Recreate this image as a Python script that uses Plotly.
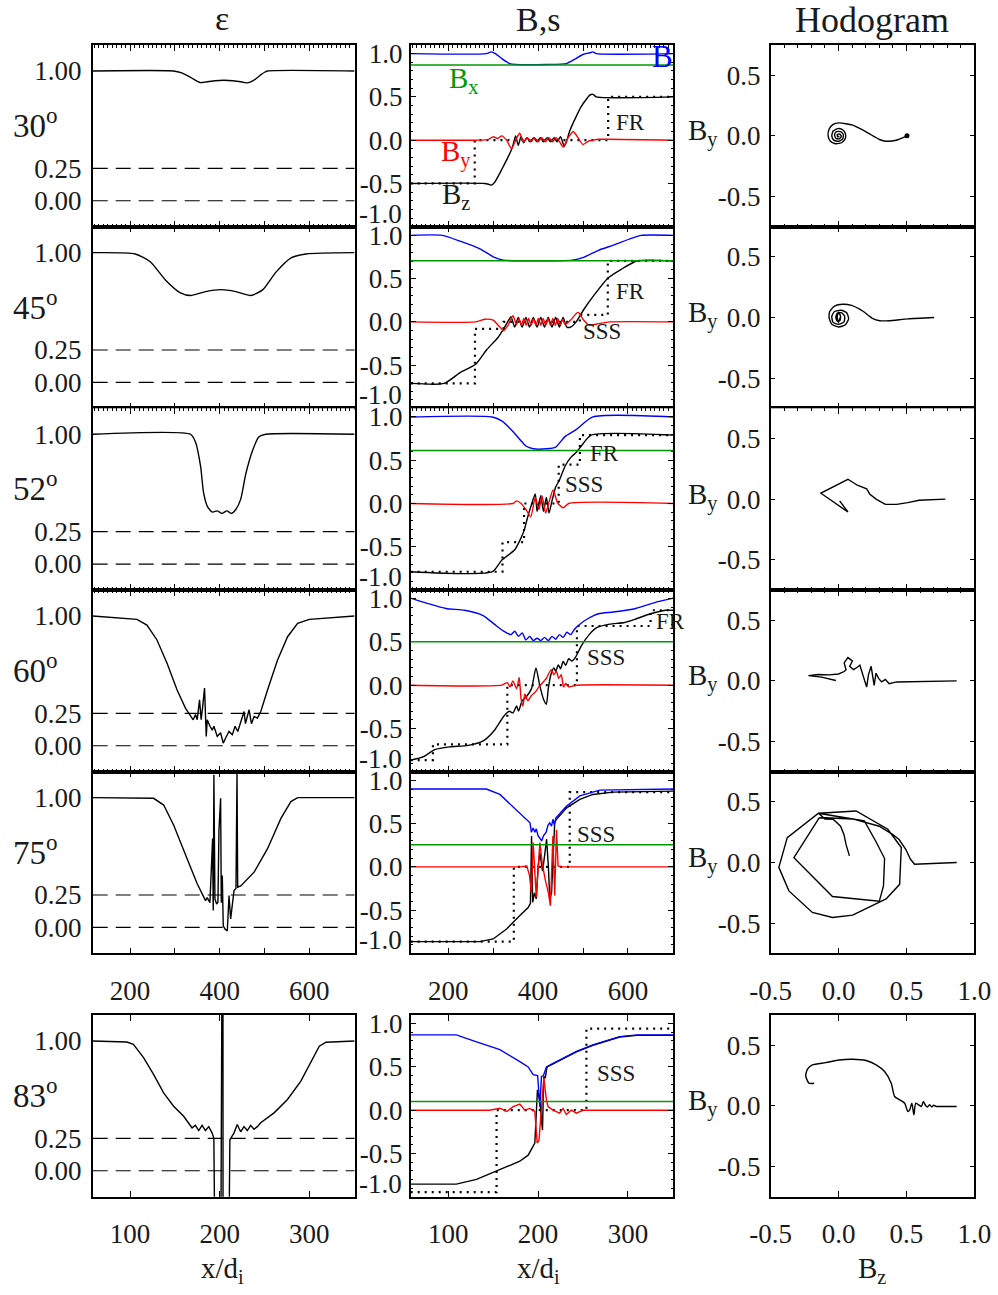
import plotly.graph_objects as go

W, H = 998, 1295
FONT = "Liberation Serif, Times New Roman, serif"

# ---------------- data ----------------
angles = ["30", "45", "52", "60", "75", "83"]
bx_values = [0.87, 0.706, 0.612, 0.503, 0.257, 0.10]
eps_ref_levels = [0.25, 0.0]

# epsilon profiles
eps_x = [
    [116.5, 297, 315, 335, 350, 357, 370, 390, 409, 430, 450, 462, 475, 490, 500, 507, 701],
    [116.5, 211.6, 245, 278.8, 312.4, 335, 368.6, 402.3, 436, 469.6, 496.5, 525.7, 559.4, 593, 701],
    [116.5, 335, 346, 357.5, 364, 373, 384, 395, 405, 416, 426, 436, 447, 458, 474, 487.7, 503, 701],
    [116.5, 215.2, 237.6, 260, 282.5, 304.9, 323.6, 334.8, 340.8, 346, 349.8, 355, 358.6, 362, 366.2, 370, 372.3, 378.3, 383.5, 387.1, 394.6, 402, 408, 413.3, 420.8, 428.2, 434.4, 440.4, 446.4, 454.4, 457.5, 465.7, 470.9, 476.9, 484.3, 491.8, 506.8, 529.2, 551.6, 574, 600.2, 701],
    [116.5, 252.5, 275, 297.4, 327.3, 349.8, 368.4, 372.2, 378.2, 384.2, 385.6, 387.1, 389.4, 393.1, 396.1, 398.4, 402.1, 403.6, 405.8, 408, 411.8, 417, 420.8, 424.5, 432, 436.4, 438.7, 440.2, 447, 461.9, 476.9, 506.8, 536.7, 559, 574, 701],
    [58.25, 96.3, 103.7, 115, 126.2, 137.4, 148.6, 159.8, 169.2, 172.9, 176.6, 180.4, 184.1, 187.8, 191.6, 193.5, 196.5, 200.5, 203.4, 203.6, 203.8, 206, 208.4, 211.4, 215.9, 219.6, 223.4, 227.1, 230.8, 234.6, 238.3, 242.1, 245.8, 260.7, 275.7, 290.6, 301.9, 311.2, 318.7, 350.5],
]
eps_y = [
    [1.0, 1.0, 0.985, 0.95, 0.92, 0.91, 0.915, 0.925, 0.928, 0.925, 0.915, 0.908, 0.925, 0.965, 0.99, 1.0, 1.0],
    [1.0, 0.99, 0.93, 0.79, 0.69, 0.67, 0.70, 0.715, 0.70, 0.67, 0.715, 0.85, 0.96, 0.99, 1.0],
    [1.0, 1.0, 0.94, 0.75, 0.55, 0.44, 0.40, 0.41, 0.39, 0.41, 0.39, 0.42, 0.50, 0.69, 0.88, 0.98, 1.0, 1.0],
    [1.0, 0.974, 0.93, 0.815, 0.636, 0.43, 0.29, 0.226, 0.20, 0.24, 0.20, 0.354, 0.20, 0.30, 0.444, 0.072, 0.20, 0.15, 0.12, 0.15, 0.072, 0.10, 0.02, 0.06, 0.11, 0.085, 0.15, 0.11, 0.17, 0.264, 0.17, 0.277, 0.17, 0.225, 0.213, 0.264, 0.43, 0.66, 0.84, 0.944, 0.974, 1.0],
    [1.0, 0.995, 0.943, 0.788, 0.53, 0.336, 0.207, 0.23, 0.19, 0.685, 0.13, 1.176, 0.22, 0.18, 0.194, 0.75, 0.995, 0.19, 0.40, 0.013, -0.013, -0.026, 0.245, 0.065, 0.284, 0.30, 1.19, 0.31, 0.32, 0.375, 0.426, 0.607, 0.84, 0.97, 1.0, 1.0],
    [1.0, 0.992, 0.974, 0.871, 0.742, 0.60, 0.497, 0.42, 0.33, 0.35, 0.31, 0.35, 0.31, 0.34, 0.29, 0.25, -2.0, -2.0, 3.0, 3.0, -2.0, -2.0, -2.0, 0.24, 0.29, 0.356, 0.30, 0.34, 0.31, 0.35, 0.32, 0.34, 0.37, 0.446, 0.549, 0.69, 0.845, 0.96, 0.99, 1.0],
]

# total field |B|
b_x = [
    [116.5, 285, 296, 305, 320, 337, 350, 420, 463, 480, 500, 515, 522, 530, 701],
    [116.5, 186.6, 228, 269.5, 302.6, 323, 476.5, 501.3, 534.5, 567.6, 609, 629.7, 701],
    [116.5, 298.4, 319, 344, 360.6, 373, 389.5, 418.5, 439.2, 460, 484.8, 522, 701],
    [116.5, 153.5, 194.9, 236.3, 277.7, 302.6, 323.3, 339.8, 348.1, 356.4, 364.7, 373, 381.3, 389.5, 397.8, 406.1, 414.4, 422.7, 431, 439.2, 447.5, 455.8, 464.1, 472.4, 480.6, 493, 509.6, 534.5, 567.6, 617.3, 667, 701],
    [116.5, 285, 315, 344, 367, 382, 385, 389, 393, 396, 400, 404, 408, 412, 418, 422, 426, 430, 433, 436, 440, 444, 463, 493, 537, 701],
    [58.25, 109, 131.5, 157.5, 179.7, 189, 194.5, 199.5, 202, 203.8, 206, 209.3, 216.7, 224, 242.7, 261, 290.8, 310, 350.5],
]
b_y = [
    [1.0, 1.0, 1.02, 1.0, 0.94, 0.885, 0.875, 0.875, 0.885, 0.93, 0.99, 1.01, 1.02, 1.0, 1.0],
    [1.0, 1.0, 0.93, 0.847, 0.746, 0.714, 0.714, 0.746, 0.827, 0.887, 0.968, 1.0, 1.0],
    [1.0, 1.0, 0.955, 0.833, 0.733, 0.664, 0.632, 0.632, 0.652, 0.773, 0.853, 1.0, 1.0],
    [1.006, 0.946, 0.886, 0.866, 0.805, 0.705, 0.624, 0.584, 0.624, 0.564, 0.604, 0.523, 0.564, 0.515, 0.543, 0.515, 0.552, 0.515, 0.564, 0.531, 0.584, 0.552, 0.612, 0.584, 0.644, 0.705, 0.765, 0.825, 0.845, 0.886, 0.966, 1.006],
    [0.9, 0.9, 0.837, 0.70, 0.59, 0.51, 0.40, 0.45, 0.40, 0.44, 0.36, 0.33, 0.30, 0.36, 0.40, 0.48, 0.51, 0.47, 0.55, 0.49, 0.57, 0.59, 0.70, 0.82, 0.887, 0.9],
    [0.87, 0.87, 0.79, 0.70, 0.56, 0.50, 0.41, 0.40, 0.04, 0.39, 0.40, 0.50, 0.54, 0.58, 0.68, 0.755, 0.85, 0.87, 0.87],
]

# Bz component
bz_x = [
    [116.5, 281, 290, 296, 303, 320, 340, 344, 350, 356, 362, 368, 375, 382, 390, 398, 405, 412, 420, 428, 436, 442, 450, 458, 463, 470, 480, 495, 510, 515, 522, 530, 701],
    [116.5, 190.8, 228, 261.2, 286, 310.9, 323.3, 335.7, 339.8, 348, 356, 364.6, 373, 381, 389.5, 397.8, 406, 414.4, 422.6, 431, 439.2, 447.5, 455.8, 464, 472.4, 484.8, 501.4, 526.2, 555.2, 584.2, 621.4, 701],
    [116.5, 298.4, 319.1, 348.1, 360.6, 368.8, 377.1, 385.4, 393.7, 397.8, 406, 411.9, 418.5, 424.3, 431, 439.2, 447.5, 460, 472.4, 484.8, 497.2, 517.9, 701],
    [116.5, 145.2, 170, 203.2, 244.6, 277.7, 302.6, 323.3, 335.7, 344, 352.3, 356.4, 364.7, 373, 385.4, 395.3, 403.6, 411.9, 418.5, 422.7, 428.5, 435.1, 439.2, 445, 450, 455.8, 461.6, 468.2, 474.8, 483.1, 497.2, 513.8, 530.3, 559.3, 592.5, 617.3, 650.4, 683.6, 701],
    [116.5, 270, 300, 330, 359, 378, 383, 385.5, 388, 392, 396, 400, 404, 410, 415, 419, 423, 426, 430, 434, 437, 441, 463, 493, 522, 567, 701],
    [58.25, 109, 131.5, 157.5, 179.7, 189, 196.4, 199.3, 202, 204.9, 206.4, 208, 210, 216.7, 224, 242.7, 261, 290.8, 310, 350.5],
]
bz_y = [
    [-0.5, -0.5, -0.51, -0.52, -0.49, -0.33, -0.12, -0.06, 0.05, -0.06, 0.04, -0.03, 0.03, -0.02, 0.03, -0.02, 0.03, -0.02, 0.03, -0.02, 0.03, -0.02, 0.04, -0.07, -0.02, 0.10, 0.22, 0.38, 0.49, 0.52, 0.53, 0.50, 0.50],
    [-0.711, -0.711, -0.58, -0.49, -0.32, -0.18, -0.08, 0.03, 0.06, -0.06, 0.05, -0.06, 0.05, -0.06, 0.05, -0.06, 0.05, -0.06, 0.05, -0.06, 0.05, -0.06, 0.05, -0.06, -0.06, 0.0, 0.14, 0.32, 0.505, 0.605, 0.706, 0.706],
    [-0.789, -0.789, -0.656, -0.535, -0.415, -0.314, -0.153, -0.012, 0.11, -0.09, 0.09, -0.09, 0.07, -0.11, 0.03, 0.19, 0.27, 0.43, 0.53, 0.59, 0.67, 0.79, 0.79],
    [-0.866, -0.825, -0.745, -0.713, -0.696, -0.644, -0.523, -0.362, -0.302, -0.32, -0.24, -0.30, -0.18, -0.14, -0.04, 0.2, 0.0, -0.16, -0.22, -0.04, 0.12, 0.2, 0.16, 0.233, 0.19, 0.274, 0.23, 0.306, 0.28, 0.322, 0.463, 0.584, 0.664, 0.705, 0.725, 0.765, 0.825, 0.866, 0.866],
    [-0.864, -0.864, -0.833, -0.718, -0.565, -0.47, -0.42, 0.357, -0.41, -0.30, -0.37, 0.0, 0.165, -0.05, 0.15, 0.32, 0.0, -0.37, -0.30, 0.10, 0.51, 0.55, 0.68, 0.78, 0.837, 0.864, 0.875],
    [-0.855, -0.855, -0.80, -0.69, -0.59, -0.52, -0.38, 0.235, 0.10, -0.23, 0.39, 0.37, 0.50, 0.535, 0.575, 0.675, 0.75, 0.845, 0.865, 0.865],
]

# By component
by_x = [
    [116.5, 263, 290, 300, 310, 319, 330, 341, 350, 359, 368, 376, 384, 392, 400, 408, 416, 424, 432, 440, 448, 456, 466, 478, 490, 500, 512, 522, 535, 701],
    [116.5, 261, 281.9, 300, 315, 323.3, 333, 344, 352, 357.4, 362.8, 368.2, 373.6, 379, 384.4, 389.8, 395.2, 400.6, 406, 411.4, 416.8, 422.2, 427.6, 433, 438.4, 443.8, 449.2, 454.6, 460, 472, 489, 501.4, 513.8, 534.5, 560, 701],
    [116.5, 344, 352.3, 362, 373, 383.7, 393.7, 402, 408.6, 416.9, 425.1, 433.4, 443.4, 455.8, 468.2, 701],
    [116.5, 319, 331.6, 337.4, 344, 352.3, 358, 362.2, 366.4, 370.5, 377.1, 385.4, 393.7, 402, 411.9, 418.5, 429.3, 435.1, 440.9, 445.9, 451.7, 456.6, 461.6, 468.2, 485, 701],
    [116.5, 360, 375, 381, 385, 389, 396, 404, 409, 416, 423, 427.5, 433, 437, 441, 444.5, 452, 701],
    [58.25, 146, 157.5, 165, 172.3, 179.7, 185.3, 190.8, 196.4, 199, 201, 203.5, 206.4, 209.3, 211.2, 216.7, 224, 227.8, 231.5, 237, 242.7, 250, 350.5],
]
by_y = [
    [0.0, 0.0, 0.01, 0.04, 0.02, 0.05, 0.0, -0.10, 0.0, 0.08, -0.02, 0.03, -0.02, 0.03, -0.02, 0.03, -0.02, 0.03, -0.02, 0.03, -0.02, -0.08, 0.02, 0.10, 0.02, -0.05, -0.01, 0.0, 0.01, 0.0],
    [0.0, 0.0, 0.03, 0.02, -0.06, -0.10, -0.04, 0.07, -0.03, 0.04, -0.04, 0.04, -0.04, 0.04, -0.04, 0.04, -0.04, 0.04, -0.04, 0.04, -0.04, 0.04, -0.04, 0.04, -0.04, 0.04, -0.04, 0.03, -0.03, 0.02, 0.11, 0.02, -0.04, -0.02, 0.0, 0.0],
    [0.0, 0.0, 0.03, 0.0, -0.07, -0.153, 0.07, -0.07, 0.09, -0.11, 0.03, 0.157, 0.008, -0.05, 0.0, 0.0],
    [0.0, 0.0, 0.03, -0.02, 0.05, -0.04, 0.09, -0.16, -0.24, -0.10, -0.18, -0.12, -0.08, -0.02, 0.04, 0.08, 0.18, 0.12, 0.16, 0.08, 0.12, -0.02, 0.02, -0.02, 0.0, 0.0],
    [0.0, 0.0, 0.01, -0.10, -0.30, 0.28, -0.35, 0.28, 0.05, -0.15, -0.30, -0.45, 0.357, -0.33, 0.43, 0.01, 0.0, 0.0],
    [0.0, 0.0, 0.023, -0.015, 0.04, 0.07, 0.0, 0.02, -0.015, -0.38, -0.35, 0.04, 0.37, 0.12, 0.04, 0.0, -0.035, 0.02, -0.05, 0.0, -0.035, 0.0, 0.0],
]

# piecewise model Bz (dotted)
model_x = [
    [116.5, 259, 259, 556, 556, 701],
    [116.5, 259.5, 259.5, 323.3, 323.3, 493, 493, 555.2, 555.2, 701],
    [116.5, 320.8, 320.8, 368.8, 368.8, 445.9, 445.9, 493.1, 493.1, 701],
    [116.5, 166, 166, 331.6, 331.6, 486.5, 486.5, 650.4, 650.4, 701],
    [116.5, 346, 346, 470.5, 470.5, 701],
    [58.25, 153.8, 153.8, 253.8, 253.8, 350.5],
]
model_y = [
    [-0.5, -0.5, 0.0, 0.0, 0.5, 0.5],
    [-0.711, -0.711, -0.08, -0.08, 0.0, 0.0, 0.08, 0.08, 0.706, 0.706],
    [-0.789, -0.789, -0.447, -0.447, 0.0, 0.0, 0.45, 0.45, 0.79, 0.79],
    [-0.866, -0.866, -0.684, -0.684, 0.0, 0.0, 0.684, 0.684, 0.866, 0.866],
    [-0.864, -0.864, 0.0, 0.0, 0.864, 0.864],
    [-0.947, -0.947, 0.0, 0.0, 0.943, 0.943],
]

# hodograms (Bz, By)
hodo_bz = [
    [0.504, 0.425, 0.351, 0.302, 0.203, 0.104, 0.005, -0.04, -0.07, -0.077, -0.06, -0.02, 0.025, 0.05, 0.05, 0.03, -0.005, -0.04, -0.05, -0.035, 0.0, 0.03, 0.035, 0.015, -0.015, -0.03, -0.02, 0.005, 0.02, 0.01, -0.01, -0.005, 0.005],
    [0.704, 0.511, 0.373, 0.304, 0.249, 0.18, 0.096, 0.03, -0.03, -0.065, -0.07, -0.05, 0.0, 0.05, 0.074, 0.06, 0.02, -0.03, -0.05, -0.04, 0.0, 0.04, 0.045, 0.02, -0.01, -0.02, -0.01, 0.01, 0.015, 0.0, -0.01, 0.0, 0.01],
    [0.787, 0.593, 0.51, 0.428, 0.345, 0.276, 0.229, 0.207, 0.138, 0.069, -0.13, 0.069, 0.008],
    [0.87, 0.65, 0.428, 0.373, 0.345, 0.317, 0.295, 0.276, 0.262, 0.24, 0.22, 0.207, 0.157, 0.138, 0.11, 0.082, 0.102, 0.069, 0.041, 0.055, 0.041, 0.0, -0.07, -0.152, -0.222, -0.125, -0.02],
    [0.87, 0.70, 0.60, 0.56, 0.53, 0.495, 0.446, 0.40, 0.30, 0.104, -0.10, -0.143, -0.329, -0.045, 0.30, 0.331, 0.339, 0.277, 0.19, -0.148, 0.129, 0.363, 0.462, 0.45, 0.35, 0.104, -0.045, -0.193, -0.366, -0.44, -0.378, -0.148, -0.10, -0.04, 0.015, 0.04, 0.055, 0.08],
    [0.87, 0.76, 0.72, 0.70, 0.687, 0.67, 0.655, 0.64, 0.625, 0.61, 0.569, 0.555, 0.54, 0.524, 0.51, 0.487, 0.45, 0.413, 0.388, 0.339, 0.277, 0.203, 0.104, 0.005, -0.094, -0.193, -0.23, -0.242, -0.218, -0.18],
]
hodo_by = [
    [0.0, -0.036, -0.044, -0.03, 0.033, 0.088, 0.107, 0.095, 0.055, 0.0, -0.045, -0.065, -0.055, -0.02, 0.02, 0.05, 0.06, 0.04, 0.0, -0.035, -0.045, -0.025, 0.01, 0.035, 0.035, 0.01, -0.02, -0.025, -0.005, 0.015, 0.01, -0.01, 0.0],
    [0.0, -0.011, -0.026, -0.026, -0.006, 0.052, 0.10, 0.11, 0.095, 0.05, 0.0, -0.055, -0.078, -0.06, -0.01, 0.04, 0.06, 0.05, 0.01, -0.04, -0.055, -0.035, 0.01, 0.04, 0.035, 0.0, -0.03, -0.025, 0.01, 0.045, 0.0, -0.04, 0.0],
    [0.0, -0.009, -0.029, -0.043, -0.043, 0.0, 0.043, 0.086, 0.115, 0.164, 0.049, -0.106, -0.014],
    [0.0, -0.003, -0.009, -0.023, 0.011, -0.009, 0.02, 0.063, -0.037, 0.12, 0.049, -0.052, 0.129, 0.112, 0.092, 0.12, 0.164, 0.192, 0.149, 0.092, 0.077, 0.057, 0.049, 0.052, 0.043, 0.031, 0.003],
    [0.0, -0.008, -0.01, -0.014, 0.027, 0.11, 0.19, 0.23, 0.30, 0.36, 0.37, 0.368, 0.04, -0.28, -0.32, -0.192, 0.033, 0.17, 0.343, 0.407, 0.426, 0.275, 0.124, -0.18, -0.30, -0.434, -0.453, -0.412, -0.234, -0.04, 0.206, 0.407, 0.36, 0.357, 0.30, 0.23, 0.15, 0.055],
    [-0.005, -0.005, -0.005, 0.005, -0.01, 0.01, -0.01, 0.005, 0.036, -0.005, 0.022, -0.074, 0.022, -0.033, -0.047, 0.022, 0.049, 0.077, 0.187, 0.283, 0.338, 0.374, 0.385, 0.379, 0.357, 0.338, 0.302, 0.247, 0.187, 0.187],
]

# ---------------- layout geometry (pixels) ----------------
col_px = [(92.7, 354.5), (410.7, 673.3), (770.7, 974.3)]
row_top = [45.0, 226.7, 408.3, 590.0, 771.7, 1015.0]
row_h = 181.7
x_range_main = [116.5, 701]
x_range_last = [58.25, 350.5]
minor_rows = [0, 1, 2, 3]
smooth_eps_rows = [0, 1, 2]
smooth_field_rows = [0, 1, 2, 3]
smooth_hodo_rows = [0, 1, 5]


def pxx(p):
    return p / W


def pxy(p):
    return 1 - p / H


def suffix(k):
    return "" if k == 1 else str(k)


def line_style(color, width, smooth):
    if smooth:
        return dict(color=color, width=width, shape="spline", smoothing=0.6)
    return dict(color=color, width=width)


fig = go.Figure()
layout = dict(width=W, height=H, margin=dict(l=0, r=0, t=0, b=0, pad=0),
              paper_bgcolor="white", plot_bgcolor="white", showlegend=False,
              font=dict(family=FONT, size=27, color="#1a1a1a"))

AXIS = dict(showline=True, linecolor="black", linewidth=1.5, mirror="ticks",
            ticks="inside", tickcolor="black", tickwidth=1.2, zeroline=False,
            automargin=False, showgrid=False,
            tickfont=dict(family=FONT, size=27, color="#1a1a1a"))


def minor(step):
    return dict(dtick=step, tick0=0, ticklen=3, ticks="inside",
                tickcolor="black", tickwidth=0.9, showgrid=False)


annotations = []
shapes = []

for r in range(6):
    top = row_top[r]
    ydom = [pxy(top + row_h), pxy(top)]
    last = r == 5
    labelled_x = r >= 4
    for c in range(3):
        k = r * 3 + c + 1
        s = suffix(k)
        xref, yref = "x" + s, "y" + s
        xdom = [pxx(col_px[c][0]), pxx(col_px[c][1])]
        xax = dict(AXIS, domain=xdom, anchor=yref)
        yax = dict(AXIS, domain=ydom, anchor=xref)
        if c < 2:
            if last:
                xax.update(range=x_range_last, tickvals=[100, 200, 300],
                           ticktext=["100", "200", "300"], ticklen=6)
            else:
                xax.update(range=x_range_main, tickvals=[200, 300, 400, 500, 600],
                           ticktext=(["200", "", "400", "", "600"] if labelled_x else [" "] * 5),
                           ticklen=6)
                if r in minor_rows:
                    xax["minor"] = minor(10)
        else:
            xax.update(range=[-0.5, 1.0], tickvals=[-0.5, 0, 0.5, 1.0],
                       ticktext=(["-0.5", "0.0", "0.5", "1.0"] if labelled_x else [" "] * 4),
                       ticklen=6)
            if r in minor_rows:
                xax["minor"] = minor(0.1)
        if labelled_x:
            xax["ticklabelstandoff"] = 12
        if c == 0:
            yax.update(range=[-0.2, 1.2], tickvals=[0, 0.25, 1.0],
                       ticktext=["0.00", "0.25", "1.00"], ticklen=0,
                       ticklabelstandoff=4)
        elif c == 1:
            yax.update(range=[-1.0, 1.1], tickvals=[-1.0, -0.5, 0, 0.5, 1.0],
                       ticktext=[" ", "-0.5", "0.0", "0.5", "1.0"], ticklen=6,
                       ticklabelstandoff=1, minor=minor(0.1))
            annotations.append(dict(text="-1.0", xref="paper", yref=yref,
                                    x=pxx(col_px[1][0] - 7), y=-1.0, yshift=13,
                                    xanchor="right", yanchor="middle", showarrow=False,
                                    font=dict(family=FONT, size=27, color="#1a1a1a")))
        else:
            yax.update(range=[-0.75, 0.75], tickvals=[-0.5, 0, 0.5],
                       ticktext=["-0.5", "0.0", "0.5"], ticklen=5,
                       ticklabelstandoff=3)
        layout["xaxis" + s] = xax
        layout["yaxis" + s] = yax

        if c == 0:
            for lev in eps_ref_levels:
                shapes.append(dict(type="line", xref=f"{xref} domain", yref=yref,
                                   x0=0, x1=1, y0=lev, y1=lev,
                                   line=dict(color="black", width=1.2, dash="15px,8px")))
            fig.add_trace(go.Scatter(x=eps_x[r], y=eps_y[r], mode="lines",
                                     line=line_style("black", 1.4, r in smooth_eps_rows),
                                     xaxis=xref, yaxis=yref))
        elif c == 1:
            sm = r in smooth_field_rows
            fig.add_trace(go.Scatter(x=model_x[r], y=model_y[r], mode="lines",
                                     line=dict(color="black", width=2.2, dash="2px,5px"),
                                     xaxis=xref, yaxis=yref))
            shapes.append(dict(type="line", xref=f"{xref} domain", yref=yref,
                               x0=0, x1=1, y0=bx_values[r], y1=bx_values[r],
                               line=dict(color="#009a00", width=1.5)))
            fig.add_trace(go.Scatter(x=bz_x[r], y=bz_y[r], mode="lines",
                                     line=line_style("black", 1.4, sm),
                                     xaxis=xref, yaxis=yref))
            fig.add_trace(go.Scatter(x=by_x[r], y=by_y[r], mode="lines",
                                     line=line_style("#ff0000", 1.4, sm),
                                     xaxis=xref, yaxis=yref))
            fig.add_trace(go.Scatter(x=b_x[r], y=b_y[r], mode="lines",
                                     line=line_style("#0000ff", 1.4, sm),
                                     xaxis=xref, yaxis=yref))
        else:
            fig.add_trace(go.Scatter(x=hodo_bz[r], y=hodo_by[r], mode="lines",
                                     line=line_style("black", 1.4, r in smooth_hodo_rows),
                                     xaxis=xref, yaxis=yref))
            if r == 0:
                fig.add_trace(go.Scatter(x=hodo_bz[r][:1], y=hodo_by[r][:1], mode="markers",
                                         marker=dict(color="black", size=5),
                                         xaxis=xref, yaxis=yref))
            annotations.append(dict(text="B<sub>y</sub>", xref="paper", yref=yref,
                                    x=pxx(703), y=0, yshift=3, xanchor="center",
                                    yanchor="middle", showarrow=False,
                                    font=dict(family=FONT, size=29, color="#1a1a1a")))

    # angle label
    annotations.append(dict(text=f"{angles[r]}<sup>o</sup>", xref="paper", yref="paper",
                            x=pxx(11), y=pxy(top + 78), xanchor="left", yanchor="middle",
                            showarrow=False, font=dict(family=FONT, size=33, color="#1a1a1a")))


def txt(text, x, y, size, color="#1a1a1a", xanchor="center"):
    annotations.append(dict(text=text, xref="paper", yref="paper", x=pxx(x), y=pxy(y),
                            xanchor=xanchor, yanchor="middle", showarrow=False,
                            font=dict(family=FONT, size=size, color=color)))


# column titles
txt("ε", 222, 19, 34)
txt("B,s", 538, 20, 34)
txt("Hodogram", 872, 20, 36)

# component labels in the first field panel
txt("B", 662, 57, 31, "#0000ff")
txt("B<sub>x</sub>", 463, 80, 29, "#009a00")
txt("B<sub>y</sub>", 456, 153, 29, "#ff0000")
txt("B<sub>z</sub>", 456, 196, 29, "#1a1a1a")

# discontinuity labels
for t, x, y in [("FR", 630, 123), ("FR", 630, 292), ("SSS", 602, 331),
                ("FR", 604, 453), ("SSS", 584, 484), ("FR", 670, 621),
                ("SSS", 606, 657), ("SSS", 596, 834), ("SSS", 616, 1073)]:
    txt(t, x, y, 23)

# axis titles
txt("x/d<sub>i</sub>", 222, 1270, 29)
txt("x/d<sub>i</sub>", 538, 1270, 29)
txt("B<sub>z</sub>", 872, 1270, 29)

layout["annotations"] = annotations
layout["shapes"] = shapes
fig.update_layout(**layout)
fig.write_html("out.html")
